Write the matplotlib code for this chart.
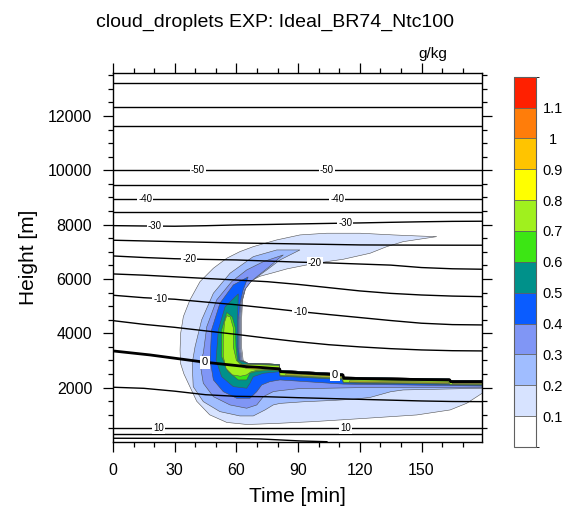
import numpy as np
import matplotlib.pyplot as plt
from matplotlib.colors import ListedColormap, BoundaryNorm
from matplotlib.cm import ScalarMappable

plt.rcParams['font.family'] = ['Liberation Sans', 'DejaVu Sans']

# ---- colour levels of cloud droplet mixing ratio (g/kg) ----
bounds = [0.0, 0.1, 0.2, 0.3, 0.4, 0.5, 0.6, 0.7, 0.8, 0.9, 1.0, 1.1, 1.2]
tick_vals = [0.1, 0.2, 0.3, 0.4, 0.5, 0.6, 0.7, 0.8, 0.9, 1.0, 1.1]
tick_text = ['0.1', '0.2', '0.3', '0.4', '0.5', '0.6', '0.7', '0.8', '0.9', '1', '1.1']
colors = ['#FFFFFF', '#D7E3FF', '#A0BDFF', '#8096F5', '#0A5CFF', '#00918A',
          '#3CE614', '#A0F01E', '#FFFF00', '#FFC400', '#FF7D0A', '#FF2000']

# ---- cloud outlines (time [min], height [m]) ----
# cloud top along the melting layer (shared by the lower levels)
band_t = [66, 71.5, 76, 80.8, 81.2, 95, 111.5, 112, 140, 163.5, 164, 179.5]
band_top = [2880, 2875, 2870, 2850, 2640, 2580, 2510, 2390, 2350, 2320, 2260, 2255]

# 0.1 g/kg
q01_out_t = [157.4, 147.7, 136.3, 120.1, 103.9, 90.9, 79.6, 68.2, 61.7, 55.3, 48.8, 42.3, 37.4, 34.2,
             32.9, 32.6, 32.8, 34.5, 36.6, 40.7, 47.0, 55.3, 65.0, 71.5, 81.2, 97.4, 123.4, 147.7,
             163.9, 172.0, 179.5]
q01_out_z = [7558, 7584, 7621, 7684, 7684, 7621, 7437, 7190, 7006, 6763, 6395, 5902, 5228, 4614,
             4002, 3388, 2900, 2500, 2160, 1500, 1000, 720, 645, 660, 690, 749, 874, 995,
             1179, 1426, 1794]
q01_in_t = [63.3, 62.5, 62.5, 63.0, 64.5, 67.5, 71.5, 77.9, 84.5, 94.2, 103.9, 112.0, 125.0, 133.1, 141.1]
q01_in_z = [3000, 3500, 4490, 5228, 5700, 5950, 6100, 6230, 6370, 6517, 6638, 6726, 6947, 7190, 7374]

# 0.2 g/kg
q02_out_t = [90.9, 79.6, 68.2, 56.9, 48.8, 43.1, 39.9, 38.5, 39.0, 43.9, 52.0, 61.7, 68.2, 73.9,
             77.9, 81.2, 92.5, 107.1, 116.8, 125.0, 135.0, 141.1, 179.5]
q02_out_z = [7068, 7068, 6822, 6211, 5475, 4492, 3509, 2898, 2037, 1485, 1117, 958, 958, 1179,
             1363, 1420, 1480, 1530, 1573, 1640, 1850, 1915, 1978]
q02_in_t = [62.8, 62.0, 62.0, 62.8, 64.5, 67.0, 71.5, 76.0, 81.2, 87.7]
q02_in_z = [3000, 3500, 4490, 5200, 5650, 5900, 6150, 6400, 6700, 6947]

# 0.3 g/kg
q03_out_t = [82.8, 73.1, 65.0, 57.7, 50.4, 45.6, 43.9, 42.3, 43.9, 48.8, 56.9, 65.0, 69.9, 73.1,
             77.9, 81.2, 90.0, 120.0, 179.5]
q03_out_z = [6885, 6638, 6332, 5902, 5228, 4245, 3266, 2898, 2162, 1669, 1363, 1242, 1363, 1669,
             1853, 1890, 1960, 2000, 2010]
q03_in_t = [62.3, 61.5, 61.5, 62.3, 64.0, 67.0, 71.0, 76.0, 80.5]
q03_in_z = [3000, 3500, 4490, 5150, 5600, 5900, 6150, 6450, 6750]

# 0.4 g/kg
q04_out_t = [65.7, 58.5, 52.0, 47.9, 47.2, 48.8, 53.6, 60.1, 66.6, 69.9, 72.3, 76.3, 81.2, 112.0, 140.0, 179.5]
q04_out_z = [6075, 5780, 5107, 4124, 3020, 2284, 1853, 1610, 1610, 1853, 2099, 2221, 2284, 2130, 2100, 2060]
q04_in_t = [61.8, 61.0, 61.0, 61.8, 63.3, 64.8]
q04_in_z = [3000, 3500, 4490, 5100, 5600, 5900]

# 0.5 g/kg
q05_out_t = [60.9, 54.5, 51.2, 50.1, 52.8, 58.5, 65.0, 66.6, 68.2, 73.1, 81.0, 81.2, 111.5, 112.0,
             163.5, 164.0, 179.5]
q05_out_z = [5450, 4982, 4124, 3020, 2405, 2037, 1978, 2162, 2405, 2530, 2589, 2420, 2300, 2170,
             2120, 2100, 2090]
q05_in_t = [61.3, 60.5, 60.5, 60.8]
q05_in_z = [3000, 3500, 4490, 5100]

# 0.6 g/kg
q06_t = [55.3, 52.8, 52.8, 56.0, 60.9, 65.0, 66.6, 69.9, 76.3, 81.0, 81.2, 111.5, 112.0, 163.5, 164.0,
         179.5, 179.5, 164.0, 163.5, 112.0, 111.5, 81.2, 80.8, 76.0, 71.5, 66.0, 63.0, 60.5, 59.8, 59.5, 58.0]
q06_z = [4770, 4124, 3141, 2589, 2284, 2284, 2530, 2600, 2640, 2630, 2440, 2320, 2185, 2135, 2110,
         2100, 2200, 2205, 2260, 2320, 2450, 2580, 2825, 2845, 2850, 2855, 2850, 3000, 3500, 4200, 4600]

# 0.7 g/kg
q07_t = [55.3, 54.2, 53.6, 53.6, 55.0, 58.0, 62.0, 65.0, 67.0, 70.0, 76.0, 81.0, 81.2, 111.5, 112.0,
         163.5, 164.0, 179.5, 179.5, 164.0, 163.5, 112.0, 111.5, 81.2, 80.8, 76.0, 70.0, 66.0, 62.0,
         60.0, 58.5, 58.5, 57.0]
q07_z = [4650, 4400, 3800, 3150, 2700, 2470, 2420, 2470, 2580, 2640, 2670, 2660, 2460, 2340, 2200,
         2150, 2125, 2115, 2185, 2190, 2245, 2300, 2430, 2560, 2805, 2830, 2845, 2850, 2860,
         3000, 3500, 4200, 4600]

# 0.8 g/kg patches
q08a_t = [62.0, 65.0, 70.0, 76.0, 80.8, 80.8, 76.0, 70.0, 65.0, 62.0]
q08a_z = [2790, 2700, 2680, 2690, 2680, 2730, 2750, 2760, 2780, 2820]
q08b_t = [84.0, 111.3, 111.3, 84.0]
q08b_z = [2470, 2360, 2400, 2510]
q08c_t = [115.0, 163.3, 163.3, 115.0]
q08c_z = [2210, 2165, 2200, 2250]
q08d_t = [165.0, 179.5, 179.5, 165.0]
q08d_z = [2140, 2135, 2165, 2170]

# ---- temperature isolines (deg C), heights at fixed times ----
iso_t = [0, 15, 30, 45, 60, 75, 90, 105, 120, 135, 150, 165, 179.5]
iso_levels = [-65, -60, -55, -50, -45, -40, -35, -30, -25, -20, -15, -10, -5, 5, 10, 15]
iso_z = [
    [13200] * 13,
    [12340] * 13,
    [11640] * 13,
    [10010] * 13,
    [9470] * 13,
    [8945] * 13,
    [8455] * 13,
    [7963, 7950, 7941, 7960, 7989, 8005, 8026, 8045, 8063, 8085, 8105, 8120, 8125],
    [7426, 7400, 7374, 7350, 7327, 7308, 7290, 7272, 7253, 7248, 7245, 7243, 7242],
    [6847, 6790, 6745, 6720, 6700, 6660, 6620, 6590, 6550, 6510, 6420, 6375, 6358],
    [6185, 6140, 6080, 6020, 5960, 5900, 5800, 5680, 5560, 5470, 5410, 5370, 5350],
    [5401, 5310, 5254, 5150, 5050, 4930, 4805, 4690, 4580, 4470, 4371, 4320, 4308],
    [4466, 4330, 4220, 4090, 3960, 3820, 3690, 3580, 3500, 3435, 3388, 3360, 3351],
    [2015, 1975, 1870, 1740, 1680, 1665, 1630, 1600, 1570, 1540, 1510, 1490, 1485],
    [527] * 13,
    [285] * 13,
]
zero_t = [0, 18, 44.7, 65, 71.5, 81.0, 81.4, 95, 111.8, 112.2, 140, 163.7, 164.1, 179.5]
zero_z = [3351, 3204, 2935, 2773, 2744, 2688, 2589, 2530, 2467, 2346, 2310, 2284, 2221, 2221]
warm_t = [0, 60, 71.5, 91, 104]
warm_z = [137, 130, 112, 38, 10]

# isoline labels: (level, time of label)
label_pos = [(-50, 41.3), (-50, 104), (-40, 15.6), (-40, 109), (-30, 20.4), (-30, 113),
             (-20, 37), (-20, 98), (-10, 23), (-10, 91), (0, 44.7), (0, 108), (10, 22), (10, 113)]

fig = plt.figure(figsize=(5.65, 5.09), dpi=100)
ax = fig.add_axes([0.2, 0.1322, 0.6531, 0.7238])

def closed(out_t, out_z, in_t, in_z):
    t = list(out_t) + [179.5] + band_t[::-1] + list(in_t)
    z = list(out_z) + [band_top[-1]] + band_top[::-1] + list(in_z)
    return t, z

polys = [
    (closed(q01_out_t, q01_out_z, q01_in_t, q01_in_z), colors[1]),
    (closed(q02_out_t, q02_out_z, q02_in_t, q02_in_z), colors[2]),
    (closed(q03_out_t, q03_out_z, q03_in_t, q03_in_z), colors[3]),
    (closed(q04_out_t, q04_out_z, q04_in_t, q04_in_z), colors[4]),
    (closed(q05_out_t, q05_out_z, q05_in_t, q05_in_z), colors[5]),
    ((q06_t, q06_z), colors[6]),
    ((q07_t, q07_z), colors[7]),
    ((q08a_t, q08a_z), colors[8]),
    ((q08b_t, q08b_z), colors[8]),
    ((q08c_t, q08c_z), colors[8]),
    ((q08d_t, q08d_z), colors[8]),
]
for (pt, pz), c in polys:
    ax.fill(pt, pz, facecolor=c, edgecolor='#505050', linewidth=0.4, zorder=2)

# isotherms
for lev, zz in zip(iso_levels, iso_z):
    ax.plot(iso_t, zz, color='black', lw=1.0, zorder=3)
ax.plot(zero_t, zero_z, color='black', lw=2.0, zorder=3)
ax.plot(warm_t, warm_z, color='black', lw=1.0, zorder=3)

iso_lookup = dict(zip(iso_levels, iso_z))
for lev, tt in label_pos:
    if lev == 0:
        zz = np.interp(tt, zero_t, zero_z)
        ax.text(tt, zz, '0', fontsize=8, ha='center', va='center', zorder=5,
                bbox=dict(boxstyle='square,pad=0.15', fc='white', ec='none'))
    else:
        zz = np.interp(tt, iso_t, iso_lookup[lev])
        ax.text(tt, zz, str(lev), fontsize=7, ha='center', va='center', zorder=5,
                bbox=dict(boxstyle='square,pad=0.1', fc='white', ec='none'))

ax.set_xlim(0, 179.4)
ax.set_ylim(10, 13570)
ax.set_xticks([0, 30, 60, 90, 120, 150])
ax.set_xticks(np.arange(10, 180, 10), minor=True)
ax.set_yticks([2000, 4000, 6000, 8000, 10000, 12000])
ax.set_yticks(np.arange(500, 13570, 500), minor=True)
ax.tick_params(which='both', direction='out', top=True, right=True, labelsize=11.5, pad=8)
ax.tick_params(which='major', length=7, width=0.9)
ax.tick_params(which='minor', length=3.5, width=0.9)
for s in ax.spines.values():
    s.set_linewidth(1.0)

fig.text(0.487, 0.9476, 'cloud_droplets EXP: Ideal_BR74_Ntc100', fontsize=14, ha='center', va='baseline')
fig.text(0.791, 0.887, 'g/kg', fontsize=11, ha='right', va='baseline')
fig.text(0.05, 1 - 257.5 / 509, 'Height [m]', fontsize=15, rotation=90, ha='center', va='center')
fig.text(0.5265, 0.025, 'Time [min]', fontsize=15, ha='center', va='center')

# colour bar
cax = fig.add_axes([0.9097, 0.1218, 0.0389, 0.7275])
sm = ScalarMappable(cmap=ListedColormap(colors), norm=BoundaryNorm(bounds, len(colors)))
cb = fig.colorbar(sm, cax=cax, ticks=tick_vals, drawedges=True)
cb.ax.set_yticklabels(tick_text)
cb.ax.tick_params(length=0, labelsize=10.5, pad=12)
for lbl in cb.ax.get_yticklabels():
    lbl.set_horizontalalignment('center')
cb.outline.set_edgecolor('#606060')
cb.outline.set_linewidth(0.8)
cb.dividers.set_color('#606060')
cb.dividers.set_linewidth(0.6)

fig.savefig('out.png', dpi=100)
